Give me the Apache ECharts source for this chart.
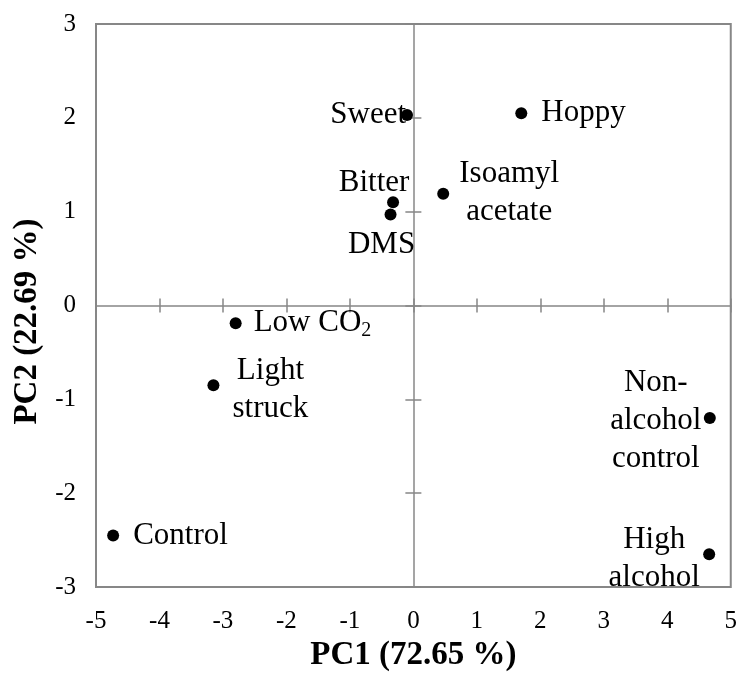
<!DOCTYPE html>
<html>
<head>
<meta charset="utf-8">
<script src="https://cdn.jsdelivr.net/npm/echarts@6/dist/echarts.min.js"></script>
<style>
  html, body { margin: 0; padding: 0; background: #fff; }
  #chart { width: 740px; height: 677px; }
</style>
</head>
<body>
<div id="chart"></div>
<script>
// Sample attributes on the first two principal components
const attributes = ['Sweet', 'Hoppy', 'Isoamyl acetate', 'Bitter', 'DMS',
  'Low CO2', 'Light struck', 'Control', 'Non-alcohol control', 'High alcohol'];
const pc1 = [-0.10, 1.70, 0.47, -0.32, -0.36, -2.80, -3.15, -4.73, 4.67, 4.66];
const pc2 = [2.03, 2.05, 1.19, 1.10, 0.97, -0.19, -0.85, -2.45, -1.20, -2.65];

const pc1Title = 'PC1 (72.65 %)';
const pc2Title = 'PC2 (22.69 %)';

// How each point label is placed around its marker
const labelLayout = {
  'Sweet': { position: 'left', distance: -5 },
  'Hoppy': { position: 'right', distance: 14 },
  'Isoamyl acetate': { text: 'Isoamyl\nacetate', offset: [66, -1] },
  'Bitter': { offset: [-19, -19] },
  'DMS': { offset: [-9, 30] },
  'Low CO2': { position: 'right', distance: 12, text: '{a|Low CO}{s|2}' },
  'Light struck': { text: 'Light\nstruck', offset: [57, 5] },
  'Control': { position: 'right', distance: 14 },
  'Non-alcohol control': { text: 'Non-\nalcohol\ncontrol', offset: [-54, 3] },
  'High alcohol': { text: 'High\nalcohol', offset: [-55, 5] }
};

const FONT = '"Liberation Serif", "Times New Roman", serif';
const GRAY = '#878787';
const LABEL_SIZE = 31;

const points = attributes.map(function (name, i) {
  const l = labelLayout[name];
  const label = {
    formatter: l.text || name,
    position: l.position || 'inside',
    align: l.position ? undefined : 'center',
    verticalAlign: l.position ? undefined : 'middle'
  };
  if (l.distance != null) label.distance = l.distance;
  if (l.offset) label.offset = l.offset;
  return { name: name, value: [pc1[i], pc2[i]], label: label };
});

const xRange = { type: 'value', min: -5, max: 5, interval: 1 };
const yRange = { type: 'value', min: -3, max: 3, interval: 1 };
const hidden = { show: false };

const chart = echarts.init(document.getElementById('chart'), null, { renderer: 'canvas' });
chart.setOption({
  backgroundColor: '#fff',
  animation: false,
  grid: {
    left: 96, right: 7, top: 24, bottom: 87,
    show: true, borderColor: GRAY, borderWidth: 2, backgroundColor: 'transparent'
  },
  xAxis: [
    Object.assign({}, xRange, {
      position: 'bottom',
      axisLine: { show: false, onZero: false },
      axisTick: hidden, splitLine: hidden,
      axisLabel: { color: '#000', fontFamily: FONT, fontSize: 25, margin: 22 },
      name: pc1Title, nameLocation: 'middle', nameGap: 52,
      nameTextStyle: { color: '#000', fontFamily: FONT, fontSize: 33, fontWeight: 'bold' }
    }),
    Object.assign({}, xRange, {
      axisLine: { show: true, onZero: true, onZeroAxisIndex: 0, lineStyle: { color: GRAY, width: 1.5 } },
      axisTick: { show: true, length: 7, lineStyle: { color: GRAY, width: 1.5 } },
      axisLabel: hidden, splitLine: hidden
    }),
    Object.assign({}, xRange, {
      axisLine: { show: true, onZero: true, onZeroAxisIndex: 0, lineStyle: { color: 'rgba(0,0,0,0)' } },
      axisTick: { show: true, inside: true, length: 7, lineStyle: { color: GRAY, width: 1.5 } },
      axisLabel: hidden, splitLine: hidden
    })
  ],
  yAxis: [
    Object.assign({}, yRange, {
      position: 'left',
      axisLine: { show: false, onZero: false },
      axisTick: hidden, splitLine: hidden,
      axisLabel: { color: '#000', fontFamily: FONT, fontSize: 25, margin: 20 },
      name: pc2Title, nameLocation: 'middle', nameGap: 50, nameRotate: 90,
      nameTextStyle: { color: '#000', fontFamily: FONT, fontSize: 33, fontWeight: 'bold', padding: [0, 32, 0, 0] }
    }),
    Object.assign({}, yRange, {
      axisLine: { show: true, onZero: true, onZeroAxisIndex: 0, lineStyle: { color: GRAY, width: 1.5 } },
      axisTick: { show: true, length: 8, lineStyle: { color: GRAY, width: 1.5 } },
      axisLabel: hidden, splitLine: hidden
    }),
    Object.assign({}, yRange, {
      axisLine: { show: true, onZero: true, onZeroAxisIndex: 0, lineStyle: { color: 'rgba(0,0,0,0)' } },
      axisTick: { show: true, inside: true, length: 8, lineStyle: { color: GRAY, width: 1.5 } },
      axisLabel: hidden, splitLine: hidden
    })
  ],
  series: [{
    type: 'scatter',
    xAxisIndex: 0, yAxisIndex: 0,
    symbol: 'circle', symbolSize: 12,
    itemStyle: { color: '#000', opacity: 1 },
    label: {
      show: true, color: '#000', fontFamily: FONT, fontSize: LABEL_SIZE, lineHeight: 38,
      rich: {
        a: { color: '#000', fontFamily: FONT, fontSize: LABEL_SIZE, lineHeight: 38 },
        s: { color: '#000', fontFamily: FONT, fontSize: 20, lineHeight: 38, padding: [14, 0, 0, 0] }
      }
    },
    emphasis: { disabled: true },
    data: points,
    z: 5
  }]
});
</script>
</body>
</html>
